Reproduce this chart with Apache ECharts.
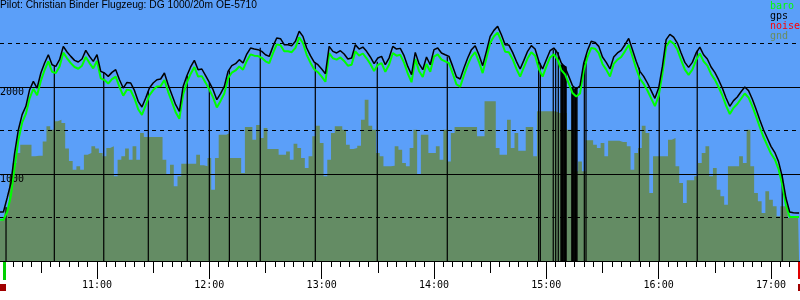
<!DOCTYPE html>
<html><head><meta charset="utf-8">
<script src="https://cdn.jsdelivr.net/npm/echarts@6/dist/echarts.min.js"></script>
<style>html,body{margin:0;padding:0;background:#fff}#c{width:800px;height:300px}</style>
</head><body><div id="c"></div>
<script>
const titleText = 'Pilot: Christian Binder Flugzeug: DG 1000/20m OE-5710';
const legendNames = ['baro', 'gps', 'noise', 'gnd'];
const hourLabels = ['11:00', '12:00', '13:00', '14:00', '15:00', '16:00', '17:00'];
const altLabels = [1000, 2000];
const axisStart = '10:08:11';
const axisEnd = '17:15:30';
const takeoffTime = '10:11';
const landingTime = '17:15';

const sampleTimes = [
  '10:08','10:10','10:12','10:14','10:16','10:18','10:20','10:22','10:24','10:26','10:28','10:30','10:32','10:34','10:36','10:38','10:40','10:42','10:44','10:46','10:48','10:50','10:52','10:54','10:56','10:58',
  '11:00','11:02','11:04','11:06','11:08','11:10','11:12','11:14','11:16','11:18','11:20','11:22','11:24','11:26','11:28','11:30','11:32','11:34','11:36','11:38','11:40','11:42','11:44','11:46','11:48','11:50','11:52','11:54','11:56','11:58',
  '12:00','12:02','12:04','12:06','12:08','12:10','12:12','12:14','12:16','12:18','12:20','12:22','12:24','12:26','12:28','12:30','12:32','12:34','12:36','12:38','12:40','12:42','12:44','12:46','12:48','12:50','12:52','12:54','12:56','12:58',
  '13:00','13:02','13:04','13:06','13:08','13:10','13:12','13:14','13:16','13:18','13:20','13:22','13:24','13:26','13:28','13:30','13:32','13:34','13:36','13:38','13:40','13:42','13:44','13:46','13:48','13:50','13:52','13:54','13:56','13:58',
  '14:00','14:02','14:04','14:06','14:08','14:10','14:12','14:14','14:16','14:18','14:20','14:22','14:24','14:26','14:28','14:30','14:32','14:34','14:36','14:38','14:40','14:42','14:44','14:46','14:48','14:50','14:52','14:54','14:56','14:58',
  '15:00','15:02','15:04','15:06','15:08','15:10','15:12','15:14','15:16','15:18','15:20','15:22','15:24','15:26','15:28','15:30','15:32','15:34','15:36','15:38','15:40','15:42','15:44','15:46','15:48','15:50','15:52','15:54','15:56','15:58',
  '16:00','16:02','16:04','16:06','16:08','16:10','16:12','16:14','16:16','16:18','16:20','16:22','16:24','16:26','16:28','16:30','16:32','16:34','16:36','16:38','16:40','16:42','16:44','16:46','16:48','16:50','16:52','16:54','16:56','16:58',
  '17:00','17:02','17:04','17:06','17:08','17:10','17:12','17:14','17:15'
];

const gpsAlt = [
  563,563,724,896,1241,1509,1682,1778,1969,2065,1988,2161,2276,2371,2256,2237,2314,2467,2402,2352,2306,2287,2322,2421,2352,2295,
  2371,2180,2161,2122,2168,2199,2084,1988,2053,2046,1961,1835,1770,1873,1988,2046,2084,2092,2161,2027,1912,1797,1720,2007,2130,2230,2306,2199,2207,2130,
  2053,1969,1854,1923,2007,2180,2245,2268,2314,2276,2379,2448,2436,2429,2410,2371,2352,2467,2563,2555,2486,2486,2475,2525,2640,2582,2448,2360,2287,2256,
  2207,2153,2467,2410,2391,2417,2379,2322,2333,2486,2436,2459,2410,2345,2268,2333,2352,2256,2333,2467,2436,2444,2360,2237,2141,2398,2268,2199,2345,2256,
  2429,2448,2391,2371,2352,2237,2115,2092,2218,2333,2429,2475,2371,2245,2410,2582,2651,2697,2601,2486,2482,2398,2295,2207,2306,2410,2475,2436,2295,2207,
  2314,2417,2448,2391,2276,2226,2122,2015,1977,2015,2276,2421,2525,2513,2467,2345,2283,2207,2345,2391,2421,2486,2559,2429,2295,2180,2122,2046,1958,1870,
  1988,2237,2544,2605,2574,2505,2391,2283,2226,2283,2391,2459,2371,2322,2230,2168,2084,1988,1873,1778,1843,1885,1946,2000,1958,1862,1747,1624,1509,1414,
  1318,1249,1145,973,724,563,555,552,552
];

const baroAlt = [
  475,475,560,750,1080,1390,1590,1690,1870,1980,1905,2070,2195,2295,2175,2160,2235,2395,2330,2275,2230,2210,2245,2345,2275,2215,
  2300,2100,2080,2040,2090,2120,2000,1900,1970,1960,1870,1745,1680,1790,1905,1965,2005,2010,2080,1945,1830,1710,1635,1915,2050,2150,2230,2120,2125,2050,
  1970,1880,1765,1840,1925,2100,2165,2190,2235,2200,2300,2375,2360,2355,2335,2295,2275,2390,2490,2480,2410,2410,2400,2450,2570,2505,2370,2280,2205,2170,
  2120,2060,2390,2330,2315,2340,2300,2245,2255,2410,2360,2385,2330,2265,2185,2255,2275,2175,2255,2390,2360,2370,2280,2155,2055,2320,2185,2115,2265,2175,
  2350,2375,2315,2295,2275,2155,2030,2005,2135,2255,2350,2400,2290,2160,2330,2505,2580,2625,2525,2405,2400,2320,2210,2120,2225,2330,2400,2360,2210,2120,
  2235,2340,2375,2315,2195,2145,2040,1930,1890,1925,2190,2345,2450,2440,2390,2265,2200,2120,2265,2315,2345,2410,2485,2350,2210,2095,2035,1960,1870,1780,
  1895,2150,2465,2530,2500,2430,2310,2200,2140,2200,2310,2385,2295,2245,2150,2085,2000,1905,1785,1690,1760,1805,1865,1925,1880,1780,1665,1540,1425,1330,
  1235,1170,1060,880,640,505,505,505,505
];

const gndAlt = [
  456,475,609,973,1126,1241,1337,1337,1337,1203,1211,1211,1375,1548,1509,1605,1624,1586,1294,1149,1050,1088,1050,1222,1241,1318,
  1294,1241,1203,1299,1318,973,1165,1203,1294,1165,1318,1165,1471,1425,1425,1425,1425,1425,1165,992,1107,858,973,1119,1119,1119,1119,1222,1100,1088,
  1184,820,1184,1452,1452,1471,1184,1184,1184,1011,1540,1540,1394,1563,1414,1529,1287,1287,1287,1222,1222,1260,1165,1348,1299,1184,1069,1203,1433,1555,
  1356,973,1165,1471,1548,1548,1509,1337,1287,1299,1325,1624,1854,1555,1509,1241,1203,1088,1088,1096,1318,1280,1126,1088,1299,1509,992,1452,1452,1241,
  1241,1318,1165,1509,1145,1471,1540,1540,1540,1540,1540,1540,1433,1433,1835,1835,1835,1299,1222,1222,1624,1299,1471,1268,1268,1540,1540,1203,1720,1720,
  1720,1720,1720,1701,1701,1701,1509,1509,1031,1145,1031,1387,1387,1337,1299,1356,1203,1383,1383,1383,1368,1368,1318,1050,1241,1299,1555,1471,781,1203,
  1203,1203,1203,1394,1414,1088,896,667,927,927,973,1126,1241,1318,973,1069,820,743,647,1088,1088,1088,1203,1126,1509,1088,781,686,552,801,
  705,628,513,628,628,494,494,494,494
];

// gps fixes dropping out (drawn from the ground up to the recorded altitude)
const dropTimes = [
  '10:11:24','10:37:12','11:03:36','11:27:24','11:48:12','12:00:00','12:10:42','12:27:12','12:56:36','13:29:42',
  '14:07:06','14:55:54','14:56:48','15:03:42','15:05:00','15:06:24',
  '15:07:48','15:08:12','15:08:36','15:09:00','15:09:24','15:09:48','15:10:12','15:10:36',
  '15:13:36','15:14:00','15:14:24','15:14:48','15:15:12','15:15:36','15:16:00','15:16:24',
  '15:20:18','15:21:12','15:49:42','16:00:18','16:20:36','17:06:00'
];
const dropAlt = [
  620,2240,2165,1950,2130,2050,2190,2450,2280,2290,
  2350,2290,2270,2430,2430,2400,
  2260,2260,2255,2250,2250,2245,2240,2235,
  1995,1990,1985,1980,1980,1985,1990,1995,
  2280,2360,2220,1940,2420,1000
];

const toMin = s => { const p = s.split(':').map(Number); return p[0] * 60 + p[1] + (p[2] || 0) / 60; };
const fmt = v => { const h = Math.floor(v / 60), m = Math.round(v - h * 60); return h + ':' + String(m).padStart(2, '0'); };
const pairs = (ts, vs) => ts.map((t, i) => [toMin(t), vs[i]]);

const axisMin = toMin(axisStart), axisMax = toMin(axisEnd);
const hourVals = hourLabels.map(toMin);
const halfVals = []; for (let v = toMin('10:30'); v <= axisMax; v += 30) halfVals.push(v);
const fiveVals = []; for (let v = Math.ceil(axisMin / 5) * 5; v <= axisMax; v += 5) fiveVals.push(v);

const MONO = '"DejaVu Sans Mono", "Liberation Mono", monospace';
const BLUE = '#5b9ff9';
const GND = '#648c64';

function xa(len, vals, showLabel, showLine) {
  return {
    type: 'value', min: axisMin, max: axisMax, position: 'bottom', offset: 0, z: 3,
    axisLine: { show: showLine, onZero: false, lineStyle: { color: '#000', width: 1 } },
    axisTick: { show: true, length: len, customValues: vals, lineStyle: { color: '#000', width: 1 } },
    axisLabel: showLabel ? { show: true, customValues: vals, formatter: fmt, margin: 19, color: '#000', fontFamily: MONO, fontSize: 10 } : { show: false },
    splitLine: { show: false }
  };
}

const chart = echarts.init(document.getElementById('c'), null, { renderer: 'canvas' });
const option = {
  animation: false,
  backgroundColor: '#fff',
  title: { text: titleText, left: 0, top: 0, padding: 0,
    textStyle: { fontFamily: '"Liberation Sans", Arial, sans-serif', fontSize: 10.25, fontWeight: 'normal', color: '#000' } },
  grid: { left: 0, right: 0, top: 0, bottom: 39, containLabel: false, outerBoundsMode: 'none',
    show: true, backgroundColor: BLUE, borderWidth: 0 },
  xAxis: [xa(18, hourVals, true, true), xa(12, halfVals, false, false), xa(6, fiveVals, false, false)],
  yAxis: [
    { type: 'value', min: 0, max: 3000, interval: 500, position: 'left', z: 2,
      axisLine: { show: false }, axisTick: { show: false },
      axisLabel: { show: true, inside: true, customValues: altLabels, formatter: v => String(v), margin: 0, verticalAlign: 'top',
        color: '#000', fontFamily: MONO, fontSize: 10 },
      splitLine: { show: true, showMinLine: false, showMaxLine: false, lineStyle: { color: '#000', width: 1, type: [4, 4] } } },
    { type: 'value', min: 0, max: 3000, interval: 1000, position: 'right', z: 2,
      axisLine: { show: false }, axisTick: { show: false }, axisLabel: { show: false },
      splitLine: { show: true, showMinLine: false, showMaxLine: false, lineStyle: { color: '#000', width: 1, type: 'solid' } } }
  ],
  series: [
    { name: 'gnd', type: 'line', z: 1, step: 'middle', symbol: 'none', data: pairs(sampleTimes, gndAlt),
      lineStyle: { width: 0, color: GND }, areaStyle: { color: GND, opacity: 1 }, silent: true },
    { name: 'gpsDrop', type: 'bar', z: 3, barWidth: 1.2, data: pairs(dropTimes, dropAlt),
      itemStyle: { color: '#000' }, silent: true },
    { name: 'baro', type: 'line', z: 4, symbol: 'none', data: pairs(sampleTimes, baroAlt),
      lineStyle: { width: 2, color: '#00ff00' }, silent: true },
    { name: 'gps', type: 'line', z: 5, symbol: 'none', data: pairs(sampleTimes, gpsAlt),
      lineStyle: { width: 1.5, color: '#000' }, silent: true }
  ]
};
chart.setOption(option);

const px = t => chart.convertToPixel({ xAxisIndex: 0 }, toMin(t));
const legendColors = { baro: '#00ff00', gps: '#000000', noise: '#ff0000', gnd: '#6a8c60' };
const graphics = legendNames.map((n, i) => ({
  type: 'text', left: 770, top: 1 + i * 10, z: 20,
  style: { text: n, fill: legendColors[n], font: '10px ' + MONO }
}));
const yAxisBottom = chart.convertToPixel({ yAxisIndex: 0 }, 0);
const xT = px(takeoffTime), xL = px(landingTime), x0 = px(axisStart);
graphics.push(
  { type: 'rect', z: 20, shape: { x: Math.round(xT) - 2, y: yAxisBottom + 1, width: 3, height: 18 }, style: { fill: '#00d000' } },
  { type: 'rect', z: 20, shape: { x: Math.round(xL) - 1, y: yAxisBottom + 1, width: 3, height: 17 }, style: { fill: '#e00000' } },
  { type: 'rect', z: 20, shape: { x: Math.round(x0), y: yAxisBottom + 23, width: 6, height: 7 }, style: { fill: '#a00000' } },
  { type: 'rect', z: 20, shape: { x: Math.round(xL) - 1, y: yAxisBottom + 23, width: 3, height: 7 }, style: { fill: '#a00000' } }
);
chart.setOption({ graphic: graphics });
</script>
</body></html>
